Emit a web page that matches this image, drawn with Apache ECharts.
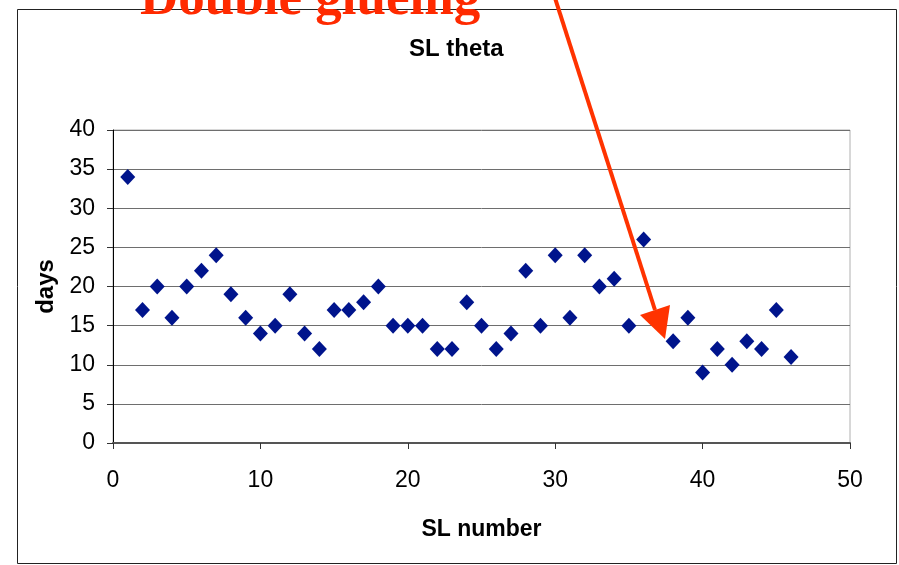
<!DOCTYPE html>
<html>
<head>
<meta charset="utf-8">
<script src="https://cdn.jsdelivr.net/npm/echarts@6/dist/echarts.min.js"></script>
<style>
  html, body { margin: 0; padding: 0; background: #fff; }
  #chart { width: 899px; height: 565px; }
</style>
</head>
<body>
<div id="chart"></div>
<script>
// SL number (x) and days (y); point 37 is hidden under the arrow head
const slNumbers = [1, 2, 3, 4, 5, 6, 7, 8, 9, 10, 11, 12, 13, 14, 15, 16, 17, 18, 19, 20, 21, 22, 23,
    24, 25, 26, 27, 28, 29, 30, 31, 32, 33, 34, 35, 36, 38, 39, 40, 41, 42, 43, 44, 45, 46]
const days = [34, 17, 20, 16, 20, 22, 24, 19, 16, 14, 15, 19, 14, 12, 17, 17, 18, 20, 15, 15, 15, 12, 12,
    18, 15, 12, 14, 22, 15, 24, 16, 24, 20, 21, 15, 26, 13, 16, 9, 12, 10, 13, 12, 17, 11]
const xTicks = [0, 10, 20, 30, 40, 50]
const yTicks = [0, 5, 10, 15, 20, 25, 30, 35, 40]

const FONT = "'Liberation Sans', Arial, sans-serif"
const chart = echarts.init(document.getElementById('chart'), null, { renderer: 'canvas' })

chart.setOption({
    animation: false,
    backgroundColor: '#fff',
    textStyle: { fontFamily: FONT },
    title: {
        text: 'SL theta',
        left: 409,
        top: 37,
        padding: 0,
        textStyle: { fontSize: 24, fontWeight: 'bold', color: '#000', fontFamily: FONT }
    },
    grid: {
        left: 113, right: 49, top: 130, bottom: 122,
        show: true, borderColor: '#b0b0b0', borderWidth: 1
    },
    xAxis: {
        type: 'value',
        min: xTicks[0], max: xTicks[xTicks.length - 1], interval: 10,
        name: 'SL number',
        nameLocation: 'middle',
        nameGap: 75,
        nameTextStyle: { fontSize: 23, fontWeight: 'bold', color: '#000', fontFamily: FONT },
        axisLine: { show: true, lineStyle: { color: '#555', width: 2 } },
        axisTick: { show: true, inside: false, length: 6, lineStyle: { color: '#333' } },
        axisLabel: { margin: 26, fontSize: 23, color: '#000', fontFamily: FONT },
        splitLine: { show: false }
    },
    yAxis: {
        type: 'value',
        min: yTicks[0], max: yTicks[yTicks.length - 1], interval: 5,
        name: 'days',
        nameLocation: 'middle',
        nameGap: 55,
        nameTextStyle: { fontSize: 24, fontWeight: 'bold', color: '#000', fontFamily: FONT },
        axisLine: { show: true, onZero: false, lineStyle: { color: '#000', width: 1 } },
        axisTick: { show: true, inside: false, length: 6, lineStyle: { color: '#333' } },
        axisLabel: { margin: 18, fontSize: 23, color: '#000', fontFamily: FONT },
        splitLine: { show: true, lineStyle: { color: '#6e6e6e', width: 1 } }
    },
    series: [{
        type: 'scatter',
        symbol: 'diamond',
        symbolSize: [15, 16],
        itemStyle: { color: '#00148c', opacity: 1 },
        data: slNumbers.map((x, i) => [x, days[i]]),
        z: 3
    }],
    graphic: [
        // outer frame of the chart
        {
            type: 'rect', z: 1,
            shape: { x: 17.5, y: 9.5, width: 879, height: 554 },
            style: { fill: null, stroke: '#222', lineWidth: 1 }
        },
        // annotation arrow
        {
            type: 'line', z: 50,
            shape: { x1: 555, y1: -2, x2: 655, y2: 310 },
            style: { stroke: '#ff3300', lineWidth: 4 }
        },
        {
            type: 'polygon', z: 50,
            shape: { points: [[640, 315], [670, 305], [665, 339]] },
            style: { fill: '#ff3300' }
        },
        {
            type: 'text', z: 60,
            style: {
                text: 'Double glueing',
                x: 140, y: 0,
                verticalAlign: 'middle',
                font: "bold 53px 'Liberation Serif', 'Times New Roman', serif",
                fill: '#ff2a00'
            }
        }
    ]
})
</script>
</body>
</html>
